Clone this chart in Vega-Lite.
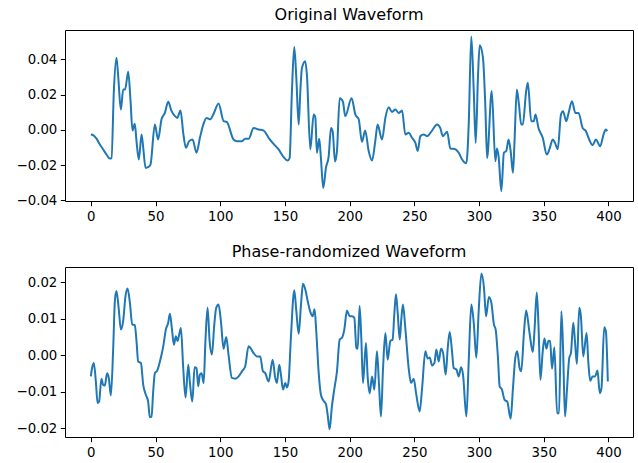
{
  "$schema": "https://vega.github.io/schema/vega-lite/v6.json",
  "padding": {"left": 15, "top": 6, "right": 3, "bottom": 3},
  "background": "white",
  "spacing": 20,
  "config": {
    "font": "DejaVu Sans",
    "view": {"stroke": "black", "strokeWidth": 1},
    "axis": {"domain": false, "grid": false, "ticks": true, "tickColor": "black", "tickSize": 4.7, "tickWidth": 1, "labelPadding": 3.5, "labelFontSize": 13.3, "labelColor": "black", "title": null, "labelFont": "DejaVu Sans"},
    "title": {"fontSize": 16, "fontWeight": "normal", "color": "black", "offset": 7, "font": "DejaVu Sans"}
  },
  "datasets": {
    "orig": [
      {"x":0,"y":-0.0026},{"x":1.8,"y":-0.003},{"x":4.4,"y":-0.005},{"x":7,"y":-0.0083},{"x":9.5,"y":-0.011},{"x":12.1,"y":-0.014},{"x":14.7,"y":-0.0163},{"x":16,"y":-0.016},{"x":17.8,"y":0.022},{"x":19.8,"y":0.041},{"x":21.1,"y":0.031},{"x":23.2,"y":0.0115},{"x":25,"y":0.0229},{"x":26.5,"y":0.0229},{"x":28.9,"y":0.033},{"x":30.7,"y":0.0163},{"x":32.2,"y":-0.0004},{"x":34,"y":0.0034},{"x":35.3,"y":-0.0064},{"x":37.1,"y":-0.0168},{"x":39.2,"y":-0.0026},{"x":40.5,"y":-0.0102},{"x":42.3,"y":-0.0216},{"x":44.3,"y":-0.0212},{"x":46.1,"y":-0.0197},{"x":49.5,"y":0.003},{"x":52,"y":-0.0055},{"x":54.6,"y":0.0059},{"x":57.2,"y":0.0096},{"x":59.8,"y":0.0159},{"x":62.4,"y":0.0106},{"x":65,"y":0.0078},{"x":66.8,"y":0.0068},{"x":69.3,"y":0.011},{"x":71.4,"y":-0.0017},{"x":73.5,"y":-0.0102},{"x":76,"y":-0.0064},{"x":78.6,"y":-0.0055},{"x":81.7,"y":-0.013},{"x":84.3,"y":-0.0045},{"x":86.9,"y":0.003},{"x":89.4,"y":0.0068},{"x":92.3,"y":0.006},{"x":94.8,"y":0.009},{"x":98.7,"y":0.015},{"x":102.6,"y":0.005},{"x":105,"y":0.0045},{"x":110.3,"y":-0.0055},{"x":112.9,"y":-0.0065},{"x":116.8,"y":-0.0065},{"x":119.3,"y":-0.005},{"x":122,"y":-0.005},{"x":125.8,"y":0.001},{"x":129.6,"y":0.0002},{"x":133.5,"y":-0.0004},{"x":137.4,"y":-0.0045},{"x":141.2,"y":-0.008},{"x":145,"y":-0.011},{"x":149,"y":-0.0155},{"x":152,"y":-0.0174},{"x":153.6,"y":-0.016},{"x":155.4,"y":0.022},{"x":157.2,"y":0.047},{"x":158.8,"y":0.0295},{"x":160.6,"y":0.003},{"x":161.9,"y":0.022},{"x":163.1,"y":0.035},{"x":165.7,"y":0.039},{"x":167,"y":0.031},{"x":169.6,"y":-0.011},{"x":172.2,"y":0.0087},{"x":173.5,"y":0.007},{"x":174.7,"y":-0.013},{"x":176.5,"y":-0.005},{"x":177.8,"y":-0.016},{"x":179.6,"y":-0.033},{"x":181.7,"y":-0.0215},{"x":183.8,"y":-0.015},{"x":185.6,"y":0.001},{"x":186.9,"y":-0.001},{"x":188.7,"y":-0.018},{"x":190.2,"y":-0.012},{"x":192.3,"y":0.018},{"x":194.8,"y":0.016},{"x":196.6,"y":0.0078},{"x":201.5,"y":0.018},{"x":204.4,"y":0.0087},{"x":207,"y":0.006},{"x":209.5,"y":-0.0068},{"x":212,"y":-0.0004},{"x":214.7,"y":-0.012},{"x":217.3,"y":-0.0174},{"x":219.8,"y":-0.0064},{"x":221.6,"y":0.003},{"x":225,"y":-0.0055},{"x":227.6,"y":0.0068},{"x":230.2,"y":0.0128},{"x":232.7,"y":0.0102},{"x":235.3,"y":0.0115},{"x":237.9,"y":0.0096},{"x":240.5,"y":0.011},{"x":243,"y":-0.0026},{"x":245.6,"y":-0.0017},{"x":248.2,"y":-0.0045},{"x":250.8,"y":-0.0074},{"x":252.6,"y":-0.012},{"x":254.6,"y":-0.0036},{"x":257.2,"y":-0.0026},{"x":259.8,"y":-0.0036},{"x":263.7,"y":-0.0004},{"x":267.5,"y":0.003},{"x":270,"y":0.0011},{"x":272,"y":-0.0036},{"x":275.3,"y":-0.0011},{"x":277.8,"y":-0.0106},{"x":281.7,"y":-0.011},{"x":284.3,"y":-0.013},{"x":286.9,"y":-0.0168},{"x":290.2,"y":-0.019},{"x":292,"y":0.003},{"x":294,"y":0.053},{"x":295.9,"y":0.022},{"x":297.4,"y":-0.0074},{"x":299.2,"y":0.031},{"x":300.5,"y":0.048},{"x":303,"y":0.041},{"x":304.9,"y":0.0125},{"x":306.2,"y":-0.016},{"x":309.8,"y":0.022},{"x":312.6,"y":-0.0178},{"x":313.8,"y":-0.0106},{"x":315.1,"y":-0.015},{"x":317.2,"y":-0.0348},{"x":319.2,"y":-0.013},{"x":321,"y":-0.012},{"x":322.8,"y":-0.0055},{"x":324.4,"y":-0.012},{"x":326.2,"y":-0.0244},{"x":327.4,"y":-0.0064},{"x":329.2,"y":0.0229},{"x":330.8,"y":0.0144},{"x":332.6,"y":0.003},{"x":333.8,"y":0.003},{"x":336.4,"y":0.022},{"x":337.7,"y":0.0267},{"x":340.3,"y":0.0049},{"x":342.3,"y":0.0049},{"x":343.6,"y":0.0087},{"x":345.9,"y":0.0011},{"x":349.2,"y":-0.0045},{"x":352.3,"y":-0.014},{"x":354.4,"y":-0.011},{"x":356.9,"y":-0.0055},{"x":358.7,"y":-0.0074},{"x":360.8,"y":-0.011},{"x":363.3,"y":0.0087},{"x":364.9,"y":0.0106},{"x":367.4,"y":0.0049},{"x":369.2,"y":0.0096},{"x":371.8,"y":0.0163},{"x":374.4,"y":0.0096},{"x":376.9,"y":0.0096},{"x":380,"y":0.0011},{"x":382.6,"y":-0.0008},{"x":385.1,"y":-0.0055},{"x":387.7,"y":-0.0087},{"x":390.3,"y":-0.0055},{"x":393.6,"y":-0.0093},{"x":396.2,"y":-0.0026},{"x":398,"y":0.0002},{"x":399,"y":-0.0008}
    ],
    "phase": [
      {"x":0,"y":-0.0058},{"x":1,"y":-0.0035},{"x":2.3,"y":-0.0021},{"x":3.9,"y":-0.0072},{"x":5.2,"y":-0.0131},{"x":6.4,"y":-0.0127},{"x":8.2,"y":-0.0064},{"x":9.5,"y":-0.0081},{"x":10.8,"y":-0.0083},{"x":12.6,"y":-0.0049},{"x":13.9,"y":-0.0062},{"x":15.5,"y":-0.011},{"x":17.3,"y":0.002},{"x":18.6,"y":0.0149},{"x":19.8,"y":0.0176},{"x":21.6,"y":0.0126},{"x":23.2,"y":0.0071},{"x":25,"y":0.0094},{"x":26.8,"y":0.0162},{"x":28.4,"y":0.0183},{"x":30.2,"y":0.0144},{"x":32,"y":0.0084},{"x":34,"y":0.0083},{"x":35.3,"y":0.0039},{"x":36.6,"y":-0.0017},{"x":38.7,"y":-0.0021},{"x":40.5,"y":-0.0081},{"x":42.5,"y":-0.0108},{"x":44.3,"y":-0.0127},{"x":45.6,"y":-0.017},{"x":46.9,"y":-0.0168},{"x":48.2,"y":-0.0099},{"x":49.5,"y":-0.0049},{"x":51.3,"y":-0.0042},{"x":53.4,"y":-0.0017},{"x":56,"y":0.0025},{"x":58,"y":0.0071},{"x":59.8,"y":0.0089},{"x":61.1,"y":0.0114},{"x":62.6,"y":0.0075},{"x":64.2,"y":0.0029},{"x":65.7,"y":0.0052},{"x":67,"y":0.0039},{"x":68.3,"y":0.0057},{"x":69.6,"y":0.0075},{"x":71.4,"y":-0.0035},{"x":73.2,"y":-0.0116},{"x":75.3,"y":-0.0026},{"x":76.5,"y":-0.0072},{"x":78.4,"y":-0.0127},{"x":80.2,"y":-0.0033},{"x":81.7,"y":-0.0035},{"x":83,"y":-0.0085},{"x":84.3,"y":-0.0053},{"x":85.6,"y":-0.0049},{"x":87.2,"y":-0.0076},{"x":88.5,"y":0.0034},{"x":90.2,"y":0.013},{"x":91.8,"y":0.0039},{"x":93.6,"y":0.0002},{"x":95.4,"y":0.0084},{"x":96.9,"y":0.013},{"x":98.7,"y":0.0139},{"x":100.5,"y":0.0094},{"x":102.6,"y":0.0018},{"x":104.6,"y":0.005},{"x":106.4,"y":0.0002},{"x":109,"y":-0.0062},{"x":111.6,"y":-0.0064},{"x":114.2,"y":-0.0058},{"x":116.8,"y":-0.0044},{"x":119.3,"y":-0.003},{"x":121.9,"y":0.0025},{"x":123.7,"y":0.0018},{"x":125.8,"y":0.0006},{"x":128.4,"y":-0.0003},{"x":130.9,"y":-0.0003},{"x":133,"y":-0.0044},{"x":134.8,"y":-0.0049},{"x":137.4,"y":-0.0072},{"x":140.5,"y":-0.0012},{"x":142.5,"y":-0.0062},{"x":143.8,"y":-0.0076},{"x":145.6,"y":-0.0026},{"x":146.9,"y":-0.0053},{"x":148.5,"y":-0.0094},{"x":150.3,"y":-0.0076},{"x":151.5,"y":-0.0088},{"x":152.8,"y":-0.0072},{"x":154.6,"y":0.0048},{"x":157.2,"y":0.0178},{"x":158.8,"y":0.0121},{"x":160.6,"y":0.0059},{"x":162.4,"y":0.0139},{"x":163.9,"y":0.0196},{"x":165.7,"y":0.0181},{"x":167.5,"y":0.015},{"x":169.6,"y":0.0119},{"x":171.4,"y":0.0107},{"x":172.9,"y":0.0126},{"x":174.2,"y":0.0066},{"x":176,"y":-0.0044},{"x":177.8,"y":-0.0108},{"x":179.9,"y":-0.0125},{"x":181.7,"y":-0.0134},{"x":183,"y":-0.0163},{"x":184.5,"y":-0.0203},{"x":186.3,"y":-0.014},{"x":188.1,"y":-0.0094},{"x":190.2,"y":-0.0044},{"x":192.3,"y":0.0043},{"x":194.1,"y":0.0048},{"x":195.9,"y":0.0071},{"x":197.9,"y":0.0123},{"x":200,"y":0.0107},{"x":201.8,"y":0.0107},{"x":203.6,"y":0.0103},{"x":205.2,"y":0.002},{"x":206.2,"y":0.0018},{"x":207.7,"y":0.0135},{"x":209,"y":0.0048},{"x":210.3,"y":-0.0076},{"x":212.6,"y":0.0034},{"x":213.9,"y":-0.0058},{"x":215.5,"y":-0.0104},{"x":217.3,"y":-0.0058},{"x":219.1,"y":-0.0094},{"x":221.1,"y":0.0011},{"x":222.7,"y":-0.0081},{"x":224.2,"y":-0.0168},{"x":225.8,"y":-0.0035},{"x":227.6,"y":0.0061},{"x":229.4,"y":-0.0012},{"x":231.4,"y":0.0039},{"x":233.2,"y":0.0043},{"x":234.5,"y":0.0112},{"x":235.8,"y":0.0167},{"x":237.1,"y":0.0117},{"x":238.7,"y":0.0043},{"x":239.9,"y":0.0098},{"x":241.2,"y":0.0139},{"x":243,"y":0.0075},{"x":245.6,"y":-0.0035},{"x":247.4,"y":-0.0076},{"x":249.5,"y":-0.0064},{"x":251.5,"y":-0.0108},{"x":254.1,"y":-0.0154},{"x":255.9,"y":-0.0094},{"x":258.5,"y":0.0011},{"x":260.3,"y":-0.0009},{"x":261.9,"y":-0.0006},{"x":263.7,"y":-0.0028},{"x":265.5,"y":-0.0021},{"x":267,"y":0.0016},{"x":268.8,"y":-0.0017},{"x":270.6,"y":0.0018},{"x":272.2,"y":0.0006},{"x":274.2,"y":-0.0053},{"x":275.8,"y":0.002},{"x":277.3,"y":0.0064},{"x":279.1,"y":0.0011},{"x":280.4,"y":-0.0035},{"x":282.5,"y":-0.0039},{"x":284.3,"y":-0.0058},{"x":286.1,"y":-0.0033},{"x":287.6,"y":-0.0053},{"x":290.2,"y":-0.0168},{"x":292,"y":-0.0017},{"x":294,"y":0.0139},{"x":295.9,"y":0.0089},{"x":297.9,"y":-0.0007},{"x":299.7,"y":0.0121},{"x":301.8,"y":0.0224},{"x":303.8,"y":0.0185},{"x":305.4,"y":0.0107},{"x":307.6,"y":0.016},{"x":309.5,"y":0.0144},{"x":311.5,"y":0.0084},{"x":312.8,"y":0.0071},{"x":314.6,"y":-0.0007},{"x":315.9,"y":-0.0085},{"x":317.7,"y":-0.0094},{"x":319.7,"y":-0.0122},{"x":321.8,"y":-0.0127},{"x":324.4,"y":-0.0174},{"x":326.2,"y":-0.009},{"x":328,"y":-0.0007},{"x":329.5,"y":0.0011},{"x":331.3,"y":-0.0035},{"x":332.6,"y":-0.0044},{"x":334.6,"y":0.0057},{"x":336.4,"y":0.0123},{"x":339,"y":0.0061},{"x":341.5,"y":0.0009},{"x":342.8,"y":0.0066},{"x":344.6,"y":0.0172},{"x":345.9,"y":0.0084},{"x":347.4,"y":-0.0067},{"x":349.2,"y":0.0011},{"x":350.5,"y":0.0046},{"x":352.1,"y":0.0018},{"x":353.6,"y":0.004},{"x":354.9,"y":0.0039},{"x":356.4,"y":-0.0037},{"x":358.2,"y":0.0022},{"x":360.3,"y":-0.0159},{"x":361.8,"y":-0.0159},{"x":363.6,"y":0.0121},{"x":364.9,"y":0.002},{"x":366.4,"y":-0.0168},{"x":368,"y":-0.009},{"x":369.7,"y":-0.0007},{"x":371,"y":0.0006},{"x":372.8,"y":0.0089},{"x":374.1,"y":0.0039},{"x":375.6,"y":-0.0024},{"x":377.4,"y":0.013},{"x":378.7,"y":0.0107},{"x":380.5,"y":-0.0003},{"x":383.1,"y":0.0061},{"x":384.4,"y":-0.0017},{"x":385.9,"y":-0.007},{"x":387.7,"y":-0.0058},{"x":389.7,"y":-0.0058},{"x":391.5,"y":-0.0042},{"x":393.3,"y":-0.0104},{"x":394.6,"y":-0.009},{"x":396.7,"y":0.0077},{"x":398,"y":0.0066},{"x":399.5,"y":-0.0072}
    ]
  },
  "vconcat": [
    {
      "title": "Original Waveform",
      "width": 568,
      "height": 171,
      "data": {"name": "orig"},
      "mark": {"type": "line", "color": "#1f77b4", "strokeWidth": 2, "interpolate": "monotone", "clip": true},
      "encoding": {
        "x": {"field": "x", "type": "quantitative", "scale": {"domain": [-19.95, 418.95], "nice": false, "zero": false}, "axis": {"values": [0, 50, 100, 150, 200, 250, 300, 350, 400], "format": "d"}},
        "y": {"field": "y", "type": "quantitative", "scale": {"domain": [-0.0404, 0.0567], "nice": false, "zero": false}, "axis": {"values": [-0.04, -0.02, 0, 0.02, 0.04], "format": ".2f"}}
      }
    },
    {
      "title": "Phase-randomized Waveform",
      "width": 568,
      "height": 170,
      "data": {"name": "phase"},
      "mark": {"type": "line", "color": "#1f77b4", "strokeWidth": 2, "interpolate": "monotone", "clip": true},
      "encoding": {
        "x": {"field": "x", "type": "quantitative", "scale": {"domain": [-19.95, 418.95], "nice": false, "zero": false}, "axis": {"values": [0, 50, 100, 150, 200, 250, 300, 350, 400], "format": "d"}},
        "y": {"field": "y", "type": "quantitative", "scale": {"domain": [-0.0224, 0.0242], "nice": false, "zero": false}, "axis": {"values": [-0.02, -0.01, 0, 0.01, 0.02], "format": ".2f"}}
      }
    }
  ]
}
